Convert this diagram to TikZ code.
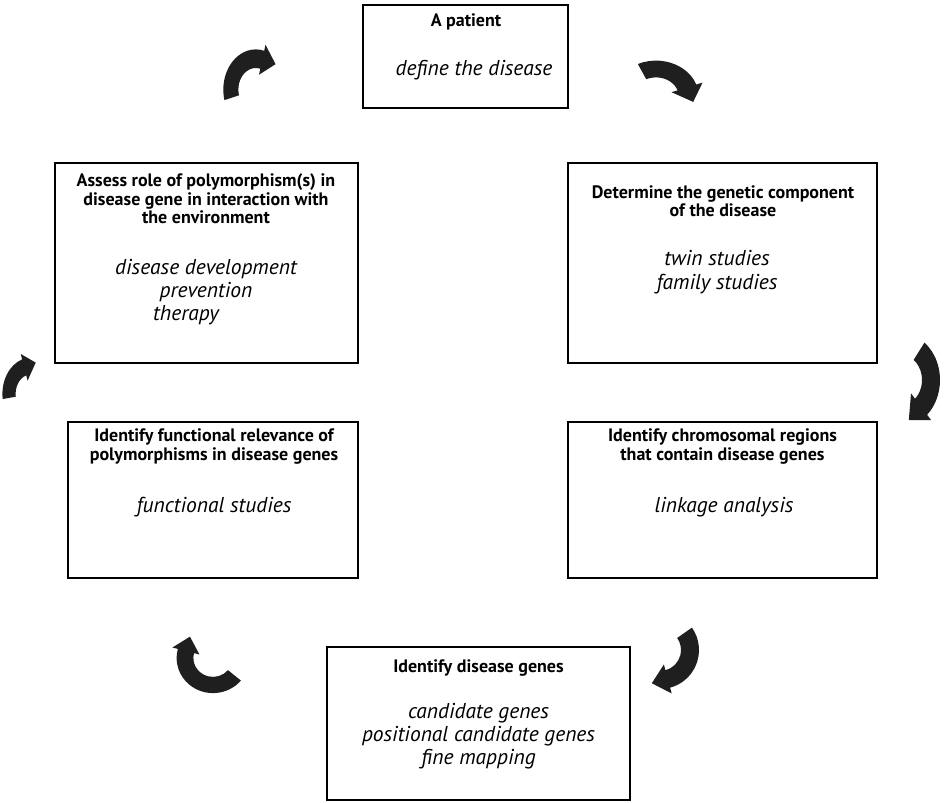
\documentclass[tikz,border=0pt]{standalone}
\usepackage{fontspec}
\setmainfont{PT Sans}
\usetikzlibrary{calc}
\tikzset{
  box/.style={draw=black, line width=1.1pt, rectangle, inner sep=0pt},
  headtext/.style={font=\bfseries\fontsize{18}{18.3}\selectfont, inner sep=0pt, align=center},
  bodytext/.style={font=\itshape\fontsize{21.5}{23.3}\selectfont, inner sep=0pt, align=center},
  arrowfill/.style={fill=black!88},
}
% cx cy rot sx sy start end
\newcommand{\cycarrow}[7]{%
  \begin{scope}[shift={(#1,#2)},rotate=#3,xscale=#4,yscale=#5]
    \fill[arrowfill] (#6:1.3) arc[start angle=#6,end angle=#7,radius=1.3]
      -- (#7:1.5) -- ($(#7:1)+(#7-90:0.55)$) -- (#7:0.5) -- (#7:0.7)
      arc[start angle=#7,end angle=#6,radius=0.7] -- cycle;
  \end{scope}}
\begin{document}
\begin{tikzpicture}[x=1pt,y=1pt]
\useasboundingbox (0,0) rectangle (946,803);
% boxes
\node[box, minimum width=205pt, minimum height=103pt] (b1) at (465.5,746.5) {};
\node[box, minimum width=303pt, minimum height=200pt] (b2) at (206.5,540) {};
\node[box, minimum width=309pt, minimum height=200pt] (b3) at (722.5,540) {};
\node[box, minimum width=290pt, minimum height=156pt] (b4) at (213,303) {};
\node[box, minimum width=309pt, minimum height=156pt] (b5) at (722.5,303) {};
\node[box, minimum width=303pt, minimum height=153pt] (b6) at (478.5,79.5) {};
% texts
\node[headtext] (t1) at (466,781) {A patient};
\node[bodytext] (i1) at (474,733) {define the disease};
\node[headtext] (t2) at (206,604) {Assess role of polymorphism(s) in\\disease gene in interaction with\\the environment};
\node[bodytext] (i2) at (206,511) {disease development\\prevention\hspace*{12pt}\\therapy\hspace*{40pt}};
\node[headtext] (t3) at (723,602) {Determine the genetic component\\of the disease};
\node[bodytext] (i3) at (717,531) {twin studies\\family studies};
\node[headtext] (t4) at (214,356.5) {Identify functional relevance of\\polymorphisms in disease genes};
\node[bodytext] (i4) at (214,296) {functional studies};
\node[headtext] (t5) at (722.5,356.5) {Identify chromosomal regions\\that contain disease genes};
\node[bodytext] (i5) at (724,296) {linkage analysis};
\node[headtext] (t6) at (478.5,135) {Identify disease genes};
\node[bodytext] (i6) at (478.5,67) {candidate genes\\positional candidate genes\\fine mapping};
% cycle arrows
\cycarrow{255.8}{713.3}{0}{25}{31}{195}{75}
\cycarrow{656}{706}{0}{33}{28}{115}{20}
\cycarrow{901}{423}{0}{30}{36}{53}{-48}
\cycarrow{660}{153}{0}{30}{30}{35}{-75}
\cycarrow{213}{145}{0}{28}{27}{-40}{-195}
\cycarrow{31}{409}{0}{22}{28}{188}{108}
\end{tikzpicture}
\end{document}
